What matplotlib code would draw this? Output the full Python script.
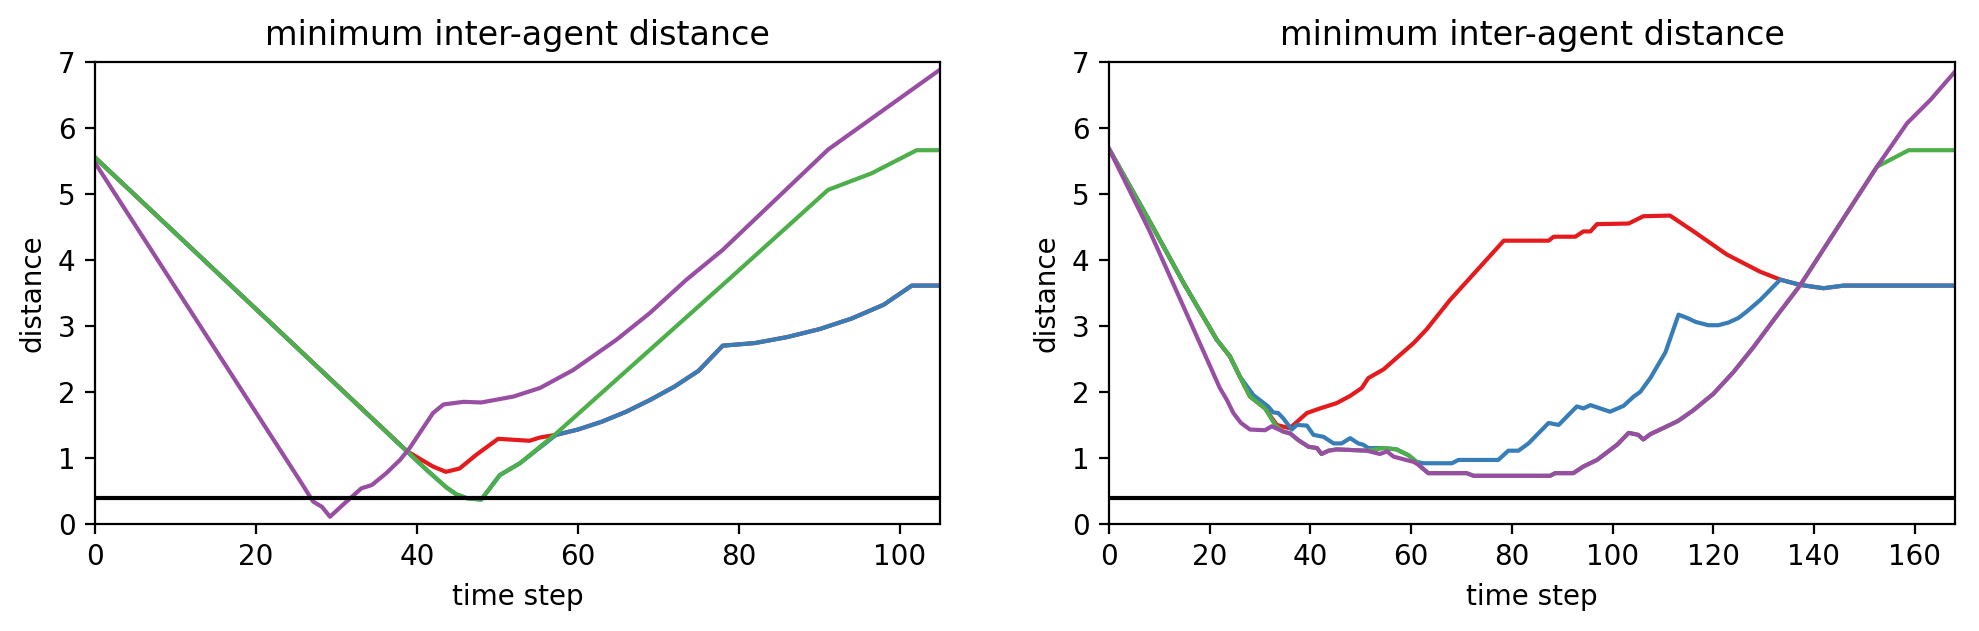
import matplotlib
matplotlib.use("Agg")
import matplotlib.pyplot as plt

# ---------------- data ----------------
SAFETY = 0.4
colors = {"red": "#e41a1c", "blue": "#377eb8", "green": "#4daf4a", "purple": "#984ea3"}

# Left panel
L_red_t = [0, 38.8, 42.0, 43.6, 45.3, 47.4, 50.1, 54.0, 55.3, 57.3, 60, 63, 66, 69, 72, 75, 78, 82, 86, 90, 94, 98, 101.5, 105]
L_red_v = [5.55, 1.10, 0.87, 0.79, 0.84, 1.05, 1.29, 1.26, 1.31, 1.35, 1.43, 1.55, 1.70, 1.88, 2.08, 2.32, 2.70, 2.74, 2.83, 2.95, 3.11, 3.32, 3.61, 3.61]

L_blue_t = [0, 41.2, 43.7, 44.9, 46.2, 48.0, 50.3, 52.8, 57.3, 60, 63, 66, 69, 72, 75, 78, 82, 86, 90, 94, 98, 101.5, 105]
L_blue_v = [5.55, 0.82, 0.55, 0.45, 0.39, 0.37, 0.74, 0.92, 1.35, 1.43, 1.55, 1.70, 1.88, 2.08, 2.32, 2.70, 2.74, 2.83, 2.95, 3.11, 3.32, 3.61, 3.61]

L_green_t = [0, 41.2, 43.7, 44.9, 46.2, 48.0, 50.3, 52.8, 57.3, 78.9, 91.1, 96.5, 102.1, 105]
L_green_v = [5.55, 0.82, 0.55, 0.45, 0.39, 0.37, 0.74, 0.92, 1.37, 3.72, 5.06, 5.31, 5.66, 5.66]

L_purple_t = [0, 25.5, 27.1, 28.2, 29.2, 30.8, 33.1, 34.4, 36.2, 37.9, 39.1, 42.0, 43.3, 45.8, 48.0, 52.0,
              55.3, 59.4, 64.8, 68.9, 73.5, 78.0, 91.1, 105]
L_purple_v = [5.47, 0.65, 0.34, 0.26, 0.11, 0.29, 0.54, 0.59, 0.77, 0.97, 1.15, 1.68, 1.81, 1.85, 1.84, 1.93,
              2.06, 2.33, 2.79, 3.19, 3.70, 4.15, 5.67, 6.88]

# Right panel
R_red_t = [0, 8.1, 14.8, 21.4, 24.0, 26.0, 28.0, 31.0, 33.3, 35.9, 39.3, 41.9, 45.2, 47.9, 50.2, 51.5, 54.5,
           57.8, 60.5, 63.1, 67.7, 78.4, 87.3, 88.3, 92.6, 94.2, 95.6, 96.9, 103.2, 106.1, 111.4, 116.1,
           122.7, 129.3, 133.3, 137.3, 141.9, 145.9, 168]
R_red_v = [5.68, 4.58, 3.65, 2.79, 2.54, 2.23, 1.93, 1.75, 1.50, 1.45, 1.68, 1.75, 1.83, 1.94, 2.06, 2.21, 2.34,
           2.56, 2.74, 2.95, 3.39, 4.29, 4.29, 4.35, 4.35, 4.43, 4.43, 4.54, 4.55, 4.66, 4.67, 4.43,
           4.08, 3.82, 3.70, 3.62, 3.57, 3.61, 3.61]

R_blue_t = [0, 8.1, 14.8, 21.4, 24.0, 26.0, 28.7, 31.6, 32.6, 33.6, 34.6, 36.3, 37.3, 39.3, 40.6, 42.6, 44.6,
            46.2, 47.9, 49.5, 50.5, 51.5, 54.5, 57.1, 59.5, 61.1, 62.4, 68.1, 69.4, 77.3, 79.3, 81.3, 83.3,
            87.3, 89.3, 92.9, 94.2, 95.6, 99.5, 102.2, 104.2, 105.5, 107.5, 110.5, 113.1, 114.8, 116.5,
            119, 121, 123, 125, 126.7, 129.3, 133.3, 137.3, 141.9, 145.9, 168]
R_blue_v = [5.68, 4.58, 3.65, 2.79, 2.54, 2.23, 1.95, 1.78, 1.69, 1.68, 1.60, 1.43, 1.50, 1.49, 1.35, 1.32, 1.22,
            1.22, 1.30, 1.22, 1.20, 1.15, 1.15, 1.13, 1.04, 0.94, 0.92, 0.92, 0.97, 0.97, 1.11, 1.11, 1.22,
            1.53, 1.50, 1.78, 1.75, 1.80, 1.70, 1.79, 1.93, 2.00, 2.21, 2.60, 3.17, 3.12, 3.06,
            3.01, 3.01, 3.05, 3.12, 3.22, 3.39, 3.70, 3.62, 3.57, 3.61, 3.61]

R_purple_t = [0, 8.1, 14.8, 22.0, 23.4, 24.7, 26.2, 28.0, 31.0, 32.3, 34.6, 36.0, 37.6, 39.6, 41.3, 42.2, 43.6,
              45.2, 51.2, 53.8, 55.2, 56.5, 60.5, 61.4, 63.4, 71.0, 72.4, 87.6, 88.6, 92.2, 94.2, 96.9,
              100.9, 103.2, 105.1, 106.1, 107.5, 110, 113, 116, 120, 124, 128, 132, 137.3, 152.5, 158.5,
              163.1, 168]
R_purple_v = [5.68, 4.43, 3.29, 2.06, 1.88, 1.68, 1.53, 1.43, 1.42, 1.48, 1.40, 1.37, 1.27, 1.17, 1.15, 1.06, 1.11,
              1.13, 1.11, 1.06, 1.10, 1.02, 0.94, 0.90, 0.77, 0.77, 0.73, 0.73, 0.77, 0.77, 0.87, 0.97,
              1.20, 1.38, 1.35, 1.28, 1.36, 1.45, 1.56, 1.72, 1.97, 2.30, 2.68, 3.09, 3.62, 5.41, 6.07,
              6.42, 6.85]

R_green_t = [0, 8.1, 14.8, 21.4, 24.0, 26.0, 28.0, 31.0, 33.0, 34.6, 36.0, 37.6, 39.6, 41.3, 42.2, 43.6, 45.2,
             51.2, 54.5, 57.1, 59.5, 61.1, 61.4, 63.4, 71.0, 72.4, 87.6, 88.6, 92.2, 94.2, 96.9, 100.9,
             103.2, 105.1, 106.1, 107.5, 110, 113, 116, 120, 124, 128, 132, 137.3, 152.5, 158.8, 168]
R_green_v = [5.68, 4.58, 3.65, 2.79, 2.54, 2.23, 1.93, 1.75, 1.50, 1.40, 1.37, 1.27, 1.17, 1.15, 1.06, 1.11, 1.13,
             1.11, 1.15, 1.13, 1.04, 0.94, 0.90, 0.77, 0.77, 0.73, 0.73, 0.77, 0.77, 0.87, 0.97, 1.20,
             1.38, 1.35, 1.28, 1.36, 1.45, 1.56, 1.72, 1.97, 2.30, 2.68, 3.09, 3.62, 5.41, 5.66, 5.66]

panels = [
    dict(xmax=105, xticks=[0, 20, 40, 60, 80, 100],
         series=[("red", L_red_t, L_red_v), ("blue", L_blue_t, L_blue_v),
                 ("green", L_green_t, L_green_v), ("purple", L_purple_t, L_purple_v)]),
    dict(xmax=168, xticks=[0, 20, 40, 60, 80, 100, 120, 140, 160],
         series=[("red", R_red_t, R_red_v), ("blue", R_blue_t, R_blue_v),
                 ("green", R_green_t, R_green_v), ("purple", R_purple_t, R_purple_v)]),
]

# ---------------- figure ----------------
fig = plt.figure(figsize=(1979 / 200, 631 / 200), dpi=200)
positions = [
    [95 / 1979, (631 - 524) / 631, (940 - 95) / 1979, (524 - 61.7) / 631],
    [1109 / 1979, (631 - 524) / 631, (1955 - 1109) / 1979, (524 - 61.7) / 631],
]

for pos, p in zip(positions, panels):
    ax = fig.add_axes(pos)
    for name, t, v in p["series"]:
        ax.plot(t, v, color=colors[name], linewidth=1.5)
    ax.axhline(SAFETY, color="black", linewidth=1.5)
    ax.set_xlim(0, p["xmax"])
    ax.set_ylim(0, 7)
    ax.set_xticks(p["xticks"])
    ax.set_yticks(range(0, 8))
    ax.set_xlabel("time step", fontsize=10)
    ax.set_ylabel("distance", fontsize=10)
    ax.set_title("minimum inter-agent distance", fontsize=12)
    ax.tick_params(labelsize=10)

fig.savefig("out.png", dpi=200)
